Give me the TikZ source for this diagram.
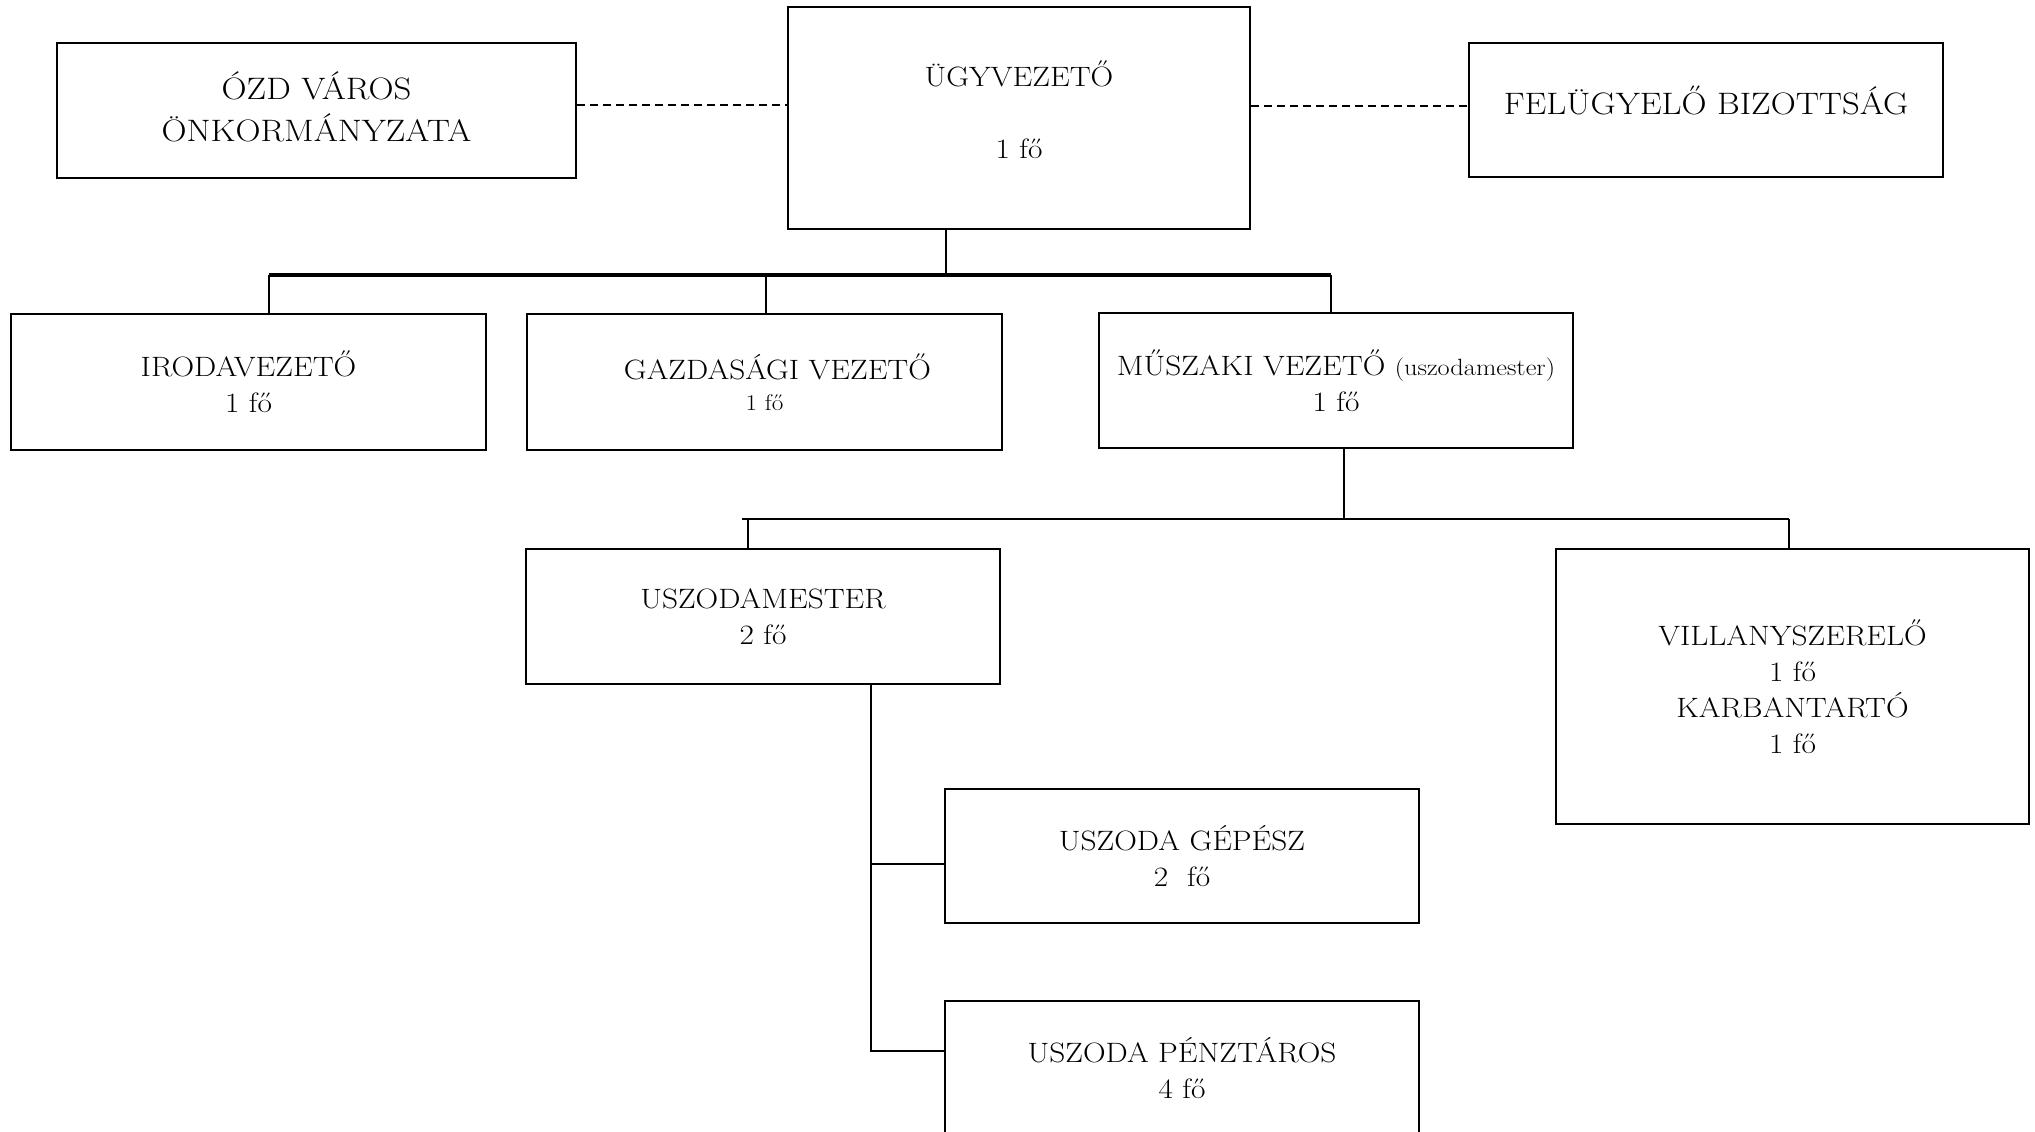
\documentclass[tikz,border=0pt]{standalone}
\usepackage{fontspec}
\setmainfont{Latin Modern Roman}[FakeStretch=1.12]
\newcommand\bigsz{\fontsize{31}{42}\selectfont}
\newcommand\midsz{\fontsize{28}{36}\selectfont}
\newcommand\smallsz{\fontsize{22.5}{26}\selectfont}
\newcommand\parsz{\fontsize{23.5}{28}\selectfont}
\begin{document}
\begin{tikzpicture}[x=1pt,y=-1pt,
  box/.style={draw, line width=2pt, inner sep=0pt, align=center, font=\midsz},
  bigbox/.style={box, font=\bigsz},
  conn/.style={line width=1.6pt},
  connthick/.style={line width=2.4pt},
  busthick/.style={line width=3.4pt},
  dashline/.style={line width=2pt, dash pattern=on 8pt off 5pt}]
\fill[white] (0,0) rectangle (2035,1132);
\useasboundingbox (0,0) rectangle (2035,1132);

% boxes
\node[bigbox, minimum width=519pt, minimum height=135pt, text depth=8pt] (ozd) at (316.5,110.5) {ÓZD VÁROS\\ÖNKORMÁNYZATA};
\node[box, minimum width=462pt, minimum height=222pt, text depth=16pt] (ugy) at (1019,118) {ÜGYVEZETŐ\\[36pt]1 fő};
\node[bigbox, minimum width=474pt, minimum height=134pt, text depth=20pt] (fel) at (1706,110) {FELÜGYELŐ BIZOTTSÁG};
\node[box, minimum width=475pt, minimum height=136pt] (iroda) at (248.5,382) {IRODAVEZETŐ\\1 fő};
\node[box, minimum width=475pt, minimum height=136pt] (gazd) at (764.5,382) {\hspace*{26pt}GAZDASÁGI VEZETŐ\\[-5pt]{\smallsz 1 fő}};
\node[box, minimum width=474pt, minimum height=135pt] (musz) at (1336,380.5) {MŰSZAKI VEZETŐ {\parsz(uszodamester)}\\1 fő};
\node[box, minimum width=474pt, minimum height=135pt] (uszm) at (763,616.5) {USZODAMESTER\\2 fő};
\node[box, minimum width=473pt, minimum height=275pt] (vill) at (1792.5,686.5) {VILLANYSZERELŐ\\1 fő\\KARBANTARTÓ\\1 fő};
\node[box, minimum width=474pt, minimum height=134pt] (gep) at (1182,856) {USZODA GÉPÉSZ\\2\ \ fő};
\node[box, minimum width=474pt, minimum height=135pt] (penz) at (1182,1068.5) {USZODA PÉNZTÁROS\\4 fő};

% helper coordinates
\coordinate (dashL) at (0,105);
\coordinate (dashR) at (0,106);
\coordinate (ugyout) at (946,0);
\coordinate (bA1) at (269,275);
\coordinate (bA2) at (766,275);
\coordinate (bA3) at (1331,275);
\coordinate (bB0) at (1344,519);
\coordinate (bB1) at (748,519);
\coordinate (bB2) at (1789,519);
\coordinate (uo) at (871,0);
\coordinate (brG) at (0,864);
\coordinate (brP) at (0,1051);

% dashed relations
\draw[dashline] (ozd.east |- dashL) -- (ugy.west |- dashL);
\draw[dashline] (ugy.east |- dashR) -- (fel.west |- dashR);

% first level
\draw[conn] (ugy.south -| ugyout) -- (ugyout |- bA1);
\draw[busthick] (bA1) -- (bA3);
\draw[conn] (bA1) -- (bA1 |- iroda.north);
\draw[conn] (bA2) -- (bA2 |- gazd.north);
\draw[conn] (bA3) -- (bA3 |- musz.north);

% second level
\draw[conn] (musz.south -| bB0) -- (bB0);
\draw[connthick] ([xshift=-6pt]bB1) -- (bB2);
\draw[conn] (bB1) -- (bB1 |- uszm.north);
\draw[conn] (bB2) -- (bB2 |- vill.north);

% third level
\draw[connthick] (uszm.south -| uo) |- (penz.west |- brP);
\draw[connthick] (uo |- brG) -- (gep.west |- brG);
\end{tikzpicture}
\end{document}
